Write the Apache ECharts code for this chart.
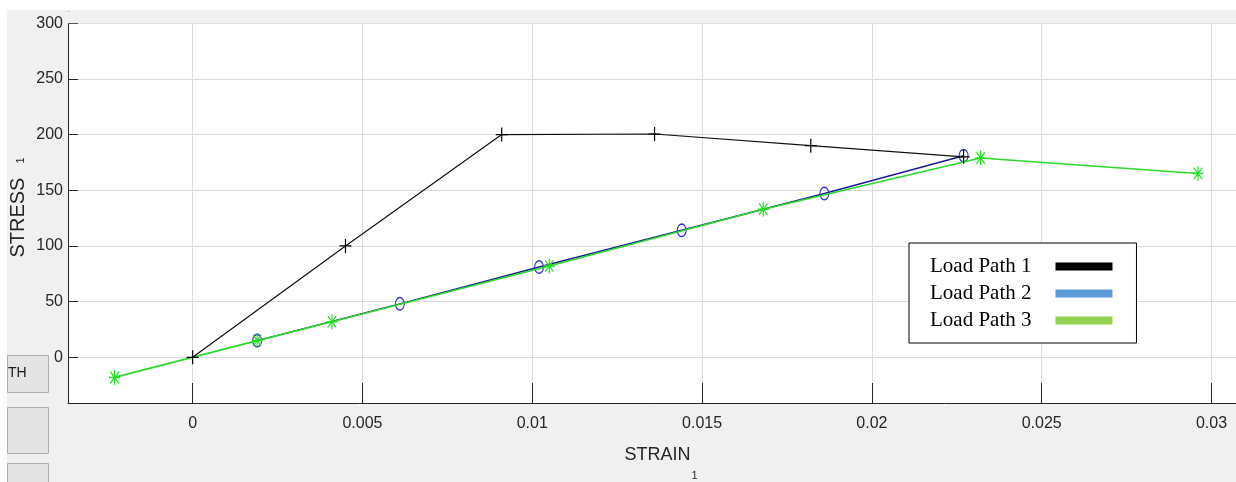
<!DOCTYPE html>
<html>
<head>
<meta charset="utf-8">
<script src="https://cdn.jsdelivr.net/npm/echarts@6/dist/echarts.min.js"></script>
<style>
  html, body { margin: 0; padding: 0; background: #f0f0f0; }
  #chart { width: 1236px; height: 482px; }
</style>
</head>
<body>
<div id="chart"></div>
<script>
// Stress–strain response along three load paths
const strainPath1 = [0, 0.0045, 0.0091, 0.0136, 0.0182, 0.0227];
const stressPath1 = [0, 100, 200, 200.5, 190, 180];

const strainPath2 = [0.0019, 0.0061, 0.0102, 0.0144, 0.0186, 0.0227];
const stressPath2 = [15, 48, 81, 114, 147, 181];

const strainPath3 = [-0.0023, 0.0019, 0.0041, 0.0105, 0.0168, 0.0232, 0.0296];
const stressPath3 = [-18, 15, 32, 82, 133, 179, 165];

const seriesNames = ['Load Path 1', 'Load Path 2', 'Load Path 3'];
const legendColors = ['#000000', '#5b9bd5', '#92d050'];

const strainTicks = [0, 0.005, 0.01, 0.015, 0.02, 0.025, 0.03];
const stressTicks = [0, 50, 100, 150, 200, 250, 300];
const strainRange = [-0.00367, 0.03072];
const stressRange = [-41, 310];

const pairs = (xs, ys) => xs.map((x, i) => [x, ys[i]]);

// marker shapes: '+', 'o' (ring), '*'
const PLUS = 'path://M0,6.4H12V7.6H0Z M5.4,0H6.6V14H5.4Z';
const RING = 'path://M6,0A6,6 0 1 1 5.99,0Z M6,1.3A4.7,4.7 0 1 0 6.01,1.3Z';
const STAR = 'path://M5.4,0H6.6V12H5.4Z M0,5.4H12V6.6H0Z M1,1.8L1.8,1L11,10.2L10.2,11Z M10.2,1L11,1.8L1.8,11L1,10.2Z';

const sans = "'Liberation Sans', Arial, Helvetica, sans-serif";
const axisInk = '#262626';
const gridInk = '#dcdcdc';

const chart = echarts.init(document.getElementById('chart'), null, { renderer: 'canvas' });

chart.setOption({
  backgroundColor: '#f0f0f0',
  animation: false,
  grid: {
    left: 68, right: 0, top: 12, bottom: 79,
    containLabel: false,
    outerBoundsMode: 'none',
    show: true, backgroundColor: '#ffffff', borderWidth: 0
  },
  graphic: [
    { type: 'rect', left: 0, top: 0, z: 100, shape: { width: 1236, height: 10 }, style: { fill: '#ffffff' } },
    { type: 'rect', left: 0, top: 0, z: 100, shape: { width: 7, height: 482 }, style: { fill: '#ffffff' } },
    { type: 'rect', left: 7, top: 355, z: 90, shape: { width: 41, height: 37 }, style: { fill: '#e4e4e4', stroke: '#adadad', lineWidth: 1 } },
    { type: 'text', left: 8, top: 366, z: 91, style: { text: 'TH', fontSize: 14, fontFamily: sans, fill: '#1a1a1a' } },
    { type: 'rect', left: 7, top: 407, z: 90, shape: { width: 41, height: 46 }, style: { fill: '#e4e4e4', stroke: '#adadad', lineWidth: 1 } },
    { type: 'rect', left: 7, top: 463, z: 90, shape: { width: 41, height: 30 }, style: { fill: '#e4e4e4', stroke: '#adadad', lineWidth: 1 } }
  ],
  legend: {
    orient: 'vertical',
    left: 909,
    top: 243,
    align: 'right',
    backgroundColor: '#ffffff',
    borderColor: '#000000',
    borderWidth: 1,
    padding: [13, 24, 12, 21],
    itemGap: 6,
    itemWidth: 57,
    itemHeight: 8,
    selectedMode: false,
    textStyle: {
      fontFamily: "'Liberation Serif', 'DejaVu Serif', serif",
      fontSize: 21,
      lineHeight: 21,
      color: '#000000',
      padding: [0, 19, 0, 0]
    },
    data: seriesNames.map((name, i) => ({
      name,
      icon: 'rect',
      itemStyle: { color: legendColors[i], borderWidth: 0 }
    }))
  },
  xAxis: {
    type: 'value',
    min: strainRange[0],
    max: strainRange[1],
    splitNumber: 7,
    minInterval: 0.005,
    maxInterval: 0.005,
    name: '{m|STRAIN}{s|1}',
    nameLocation: 'middle',
    nameGap: 43,
    nameTextStyle: {
      rich: {
        m: { fontFamily: sans, fontSize: 18, lineHeight: 22, color: axisInk, verticalAlign: 'top', padding: [0, 0, 0, 18] },
        s: { fontFamily: sans, fontSize: 11, lineHeight: 11, color: axisInk, verticalAlign: 'top', padding: [24, 0, 0, 1] }
      }
    },
    axisLine: { show: true, onZero: false, lineStyle: { color: axisInk, width: 1 } },
    axisTick: { show: true, inside: true, length: 20, customValues: strainTicks, lineStyle: { color: axisInk } },
    axisLabel: {
      customValues: strainTicks,
      margin: 13,
      fontFamily: sans,
      fontSize: 16,
      color: axisInk
    },
    splitLine: { show: true, lineStyle: { color: gridInk, width: 1 } }
  },
  yAxis: {
    type: 'value',
    min: stressRange[0],
    max: stressRange[1],
    splitNumber: 7,
    minInterval: 50,
    maxInterval: 50,
    name: '{m|STRESS}{s|1}',
    nameLocation: 'middle',
    nameRotate: 90,
    nameGap: 40,
    nameMoveOverlap: false,
    nameTextStyle: {
      rich: {
        m: { fontFamily: sans, fontSize: 20, lineHeight: 20, color: axisInk, verticalAlign: 'top' },
        s: { fontFamily: sans, fontSize: 11, lineHeight: 11, color: axisInk, verticalAlign: 'top', padding: [7, 0, 0, 14] }
      }
    },
    axisLine: { show: true, onZero: false, lineStyle: { color: axisInk, width: 1 } },
    axisTick: { show: true, inside: true, length: 10, customValues: stressTicks, lineStyle: { color: axisInk } },
    axisLabel: {
      customValues: stressTicks,
      margin: 5,
      fontFamily: sans,
      fontSize: 16,
      color: axisInk
    },
    splitLine: { show: true, lineStyle: { color: gridInk, width: 1 } }
  },
  series: [
    {
      name: seriesNames[0],
      type: 'line',
      z: 4,
      data: pairs(strainPath1, stressPath1),
      symbol: PLUS,
      symbolSize: [12, 14],
      showAllSymbol: true,
      color: '#000000',
      itemStyle: { color: '#000000', borderWidth: 0 },
      lineStyle: { color: '#111111', width: 1.2 },
      emphasis: { disabled: true }
    },
    {
      name: seriesNames[1],
      type: 'line',
      z: 2,
      data: pairs(strainPath2, stressPath2),
      symbol: RING,
      symbolSize: [10, 14],
      showAllSymbol: true,
      color: '#3434d0',
      itemStyle: { color: '#3434d0', borderWidth: 0 },
      lineStyle: { color: '#1c1c96', width: 1.5 },
      emphasis: { disabled: true },
      markArea: {
        silent: true,
        itemStyle: { color: '#f0f0f0' },
        data: [[{ yAxis: stressTicks[stressTicks.length - 1] }, { yAxis: stressRange[1] }]]
      }
    },
    {
      name: seriesNames[2],
      type: 'line',
      z: 3,
      data: pairs(strainPath3, stressPath3),
      symbol: STAR,
      symbolSize: [11, 15],
      showAllSymbol: true,
      color: '#1fe01f',
      itemStyle: { color: '#1fe01f', borderWidth: 0 },
      lineStyle: { color: '#2bd82b', width: 1.6 },
      emphasis: { disabled: true }
    }
  ]
});
</script>
</body>
</html>
